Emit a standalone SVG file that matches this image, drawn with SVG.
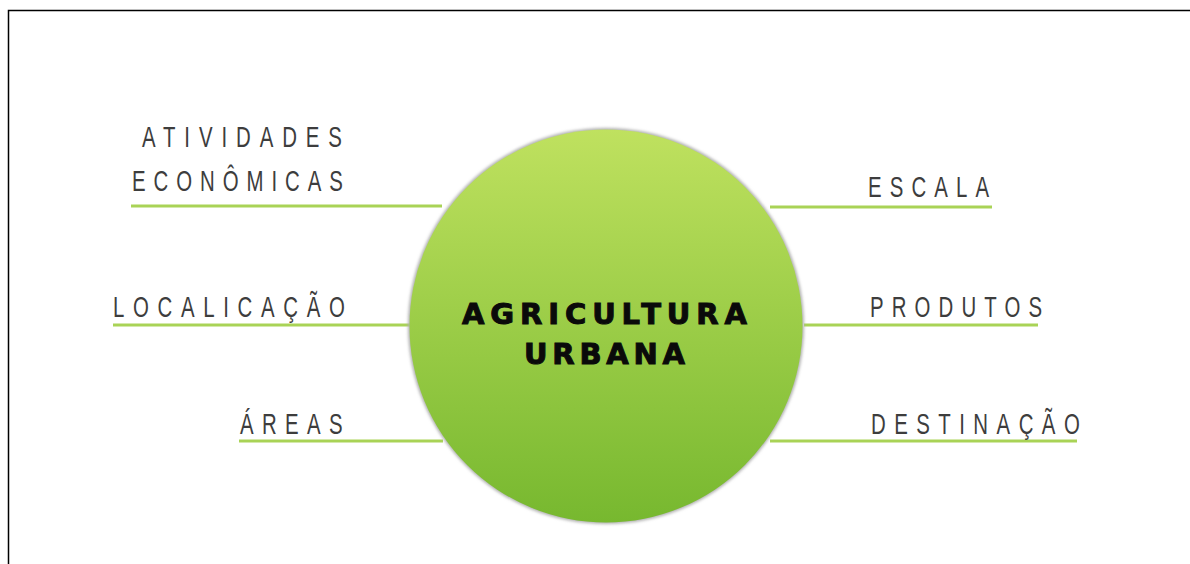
<svg xmlns="http://www.w3.org/2000/svg" width="1190" height="564" viewBox="0 0 1190 564">
<style>
.lbl{font-family:"Liberation Sans",Arial,sans-serif;font-size:30px;fill:#3d3d3d}
.title{font-family:"DejaVu Sans","Liberation Sans",sans-serif;font-weight:bold;font-size:29px;fill:#0a0a0a;stroke:#0a0a0a;stroke-width:1}
.conn{stroke:#a9d356;stroke-width:3;fill:none}
</style>
<defs>
<linearGradient id="g" x1="0" y1="0" x2="0" y2="1">
<stop offset="0" stop-color="#bfe15f"/>
<stop offset="1" stop-color="#77b82f"/>
</linearGradient>
<filter id="sh" x="-10%" y="-10%" width="120%" height="120%">
<feGaussianBlur stdDeviation="1.5"/>
</filter>
</defs>
<rect x="0" y="0" width="1190" height="564" fill="#ffffff"/>
<path d="M8.5 564 V10.5 H1190" stroke="#000" stroke-width="1.5" fill="none"/>
<g id="connectors">
<line class="conn" x1="131" y1="206" x2="442" y2="206"/>
<line class="conn" x1="113" y1="325" x2="410" y2="325"/>
<line class="conn" x1="239" y1="441" x2="443" y2="441"/>
<line class="conn" x1="770" y1="207" x2="992" y2="207"/>
<line class="conn" x1="804" y1="325" x2="1038" y2="325"/>
<line class="conn" x1="770" y1="441" x2="1077" y2="441"/>
</g>
<g id="center">
<circle cx="606" cy="326" r="198" fill="#b0b0b0" filter="url(#sh)"/>
<circle cx="606" cy="326" r="196.5" fill="url(#g)"/>
<text class="title" x="462" y="324" textLength="285" lengthAdjust="spacing">AGRICULTURA</text>
<text class="title" x="524" y="364" textLength="161" lengthAdjust="spacing">URBANA</text>
</g>
<g id="atividades">
<text class="lbl" transform="translate(142 147) scale(0.68 1)" textLength="294" lengthAdjust="spacing">ATIVIDADES</text>
<text class="lbl" transform="translate(132 191) scale(0.68 1)" textLength="310" lengthAdjust="spacing">ECONÔMICAS</text>
</g>
<g id="localizacao">
<text class="lbl" transform="translate(113 317) scale(0.68 1)" textLength="341" lengthAdjust="spacing">LOCALICAÇÃO</text>
</g>
<g id="areas">
<text class="lbl" transform="translate(240 434) scale(0.68 1)" textLength="151" lengthAdjust="spacing">ÁREAS</text>
</g>
<g id="escala">
<text class="lbl" transform="translate(868 197) scale(0.68 1)" textLength="178" lengthAdjust="spacing">ESCALA</text>
</g>
<g id="produtos">
<text class="lbl" transform="translate(870 317) scale(0.68 1)" textLength="253" lengthAdjust="spacing">PRODUTOS</text>
</g>
<g id="destinacao">
<text class="lbl" transform="translate(871 434) scale(0.68 1)" textLength="307" lengthAdjust="spacing">DESTINAÇÃO</text>
</g>
</svg>
